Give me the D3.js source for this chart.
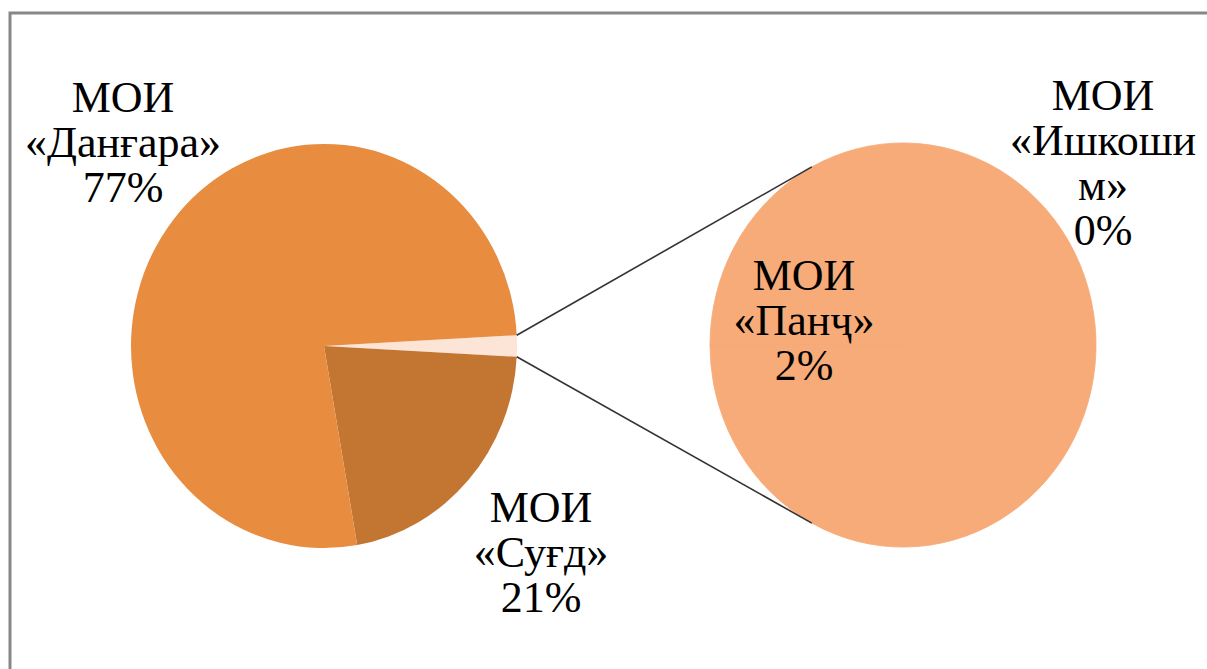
<!DOCTYPE html>
<html>
<head>
<meta charset="utf-8">
<script src="https://cdn.jsdelivr.net/npm/d3@7"></script>
<style>
  body { margin: 0; background: #fff; }
</style>
</head>
<body>
<svg></svg>
<script>
var width = 1207, height = 669;

// data (percent shares)
var names = ["Данғара", "Суғд", "Панҷ", "Ишкошим"];
var values = [76.9, 21.4, 1.65, 0.05];
var labelLines = [["МОИ", "«Данғара»"], ["МОИ", "«Суғд»"], ["МОИ", "«Панҷ»"], ["МОИ", "«Ишкоши", "м»"]];
var colors = ["#E88C40", "#C37532", "#F7AB79", "#F7AB79"];
var otherColor = "#FCE4D6";

var svg = d3.select("svg").attr("width", width).attr("height", height);

// frame
svg.append("path")
    .attr("d", "M10,669 L10,13 L1207,13")
    .attr("fill", "none")
    .attr("stroke", "#878787")
    .attr("stroke-width", 3);

var R = 193, SY = 1.047;
var left = {x: 324, y: 346}, right = {x: 903, y: 345};

// main pie: "other" (Panch + Ishkoshim) first, centred at 3 o'clock
var otherVal = values[2] + values[3];
var mainData = [{name: "other", v: otherVal, c: otherColor},
                {name: names[1], v: values[1], c: colors[1]},
                {name: names[0], v: values[0], c: colors[0]}];
var total = d3.sum(values);
var otherAng = otherVal / total * 2 * Math.PI;
var start = Math.PI / 2 - otherAng / 2;

var pieMain = d3.pie().sort(null).value(function (d) { return d.v; })
    .startAngle(start).endAngle(start + 2 * Math.PI);
var arc = d3.arc().innerRadius(0).outerRadius(R);

var gL = svg.append("g").attr("transform", "translate(" + left.x + "," + left.y + ") scale(1," + SY + ")");
gL.selectAll("path").data(pieMain(mainData)).enter().append("path")
    .attr("d", arc)
    .attr("fill", function (d) { return d.data.c; });

// secondary pie
var subData = [{name: names[2], v: values[2], c: colors[2]},
               {name: names[3], v: values[3], c: colors[3]}];
var pieSub = d3.pie().sort(null).value(function (d) { return d.v; })
    .startAngle(-Math.PI / 2);
var gR = svg.append("g").attr("transform", "translate(" + right.x + "," + right.y + ") scale(1," + SY + ")");
gR.selectAll("path").data(pieSub(subData)).enter().append("path")
    .attr("d", arc)
    .attr("fill", function (d) { return d.data.c; })
    .attr("stroke", function (d) { return d.data.c; })
    .attr("stroke-width", 0.8);

// connector lines
function pt(c, a) { return [c.x + R * Math.sin(a), c.y - R * Math.cos(a) * SY]; }
var connAng = 28.2 * Math.PI / 180;
var lines = [[pt(left, start), pt(right, -connAng)],
             [pt(left, start + otherAng), pt(right, Math.PI + connAng)]];
svg.selectAll("line.conn").data(lines).enter().append("line")
    .attr("class", "conn")
    .attr("x1", function (d) { return d[0][0]; })
    .attr("y1", function (d) { return d[0][1]; })
    .attr("x2", function (d) { return d[1][0]; })
    .attr("y2", function (d) { return d[1][1]; })
    .attr("stroke", "#333")
    .attr("stroke-width", 1.6);

// labels: one text element per line
var labelPos = [[123, 112], [541, 522], [804, 290], [1103, 110]];
var lineH = 45;
var rows = [];
labelLines.forEach(function (ls, i) {
    ls.concat([Math.round(values[i]) + "%"]).forEach(function (s, j) {
        rows.push({s: s, x: labelPos[i][0], y: labelPos[i][1] + j * lineH});
    });
});
svg.selectAll("text.lbl").data(rows).enter().append("text")
    .attr("class", "lbl")
    .attr("x", function (d) { return d.x; })
    .attr("y", function (d) { return d.y; })
    .attr("text-anchor", "middle")
    .style("font-family", "'Liberation Serif', 'Times New Roman', Tinos")
    .style("font-size", "44px")
    .attr("fill", "#000")
    .text(function (d) { return d.s; });
</script>
</body>
</html>
